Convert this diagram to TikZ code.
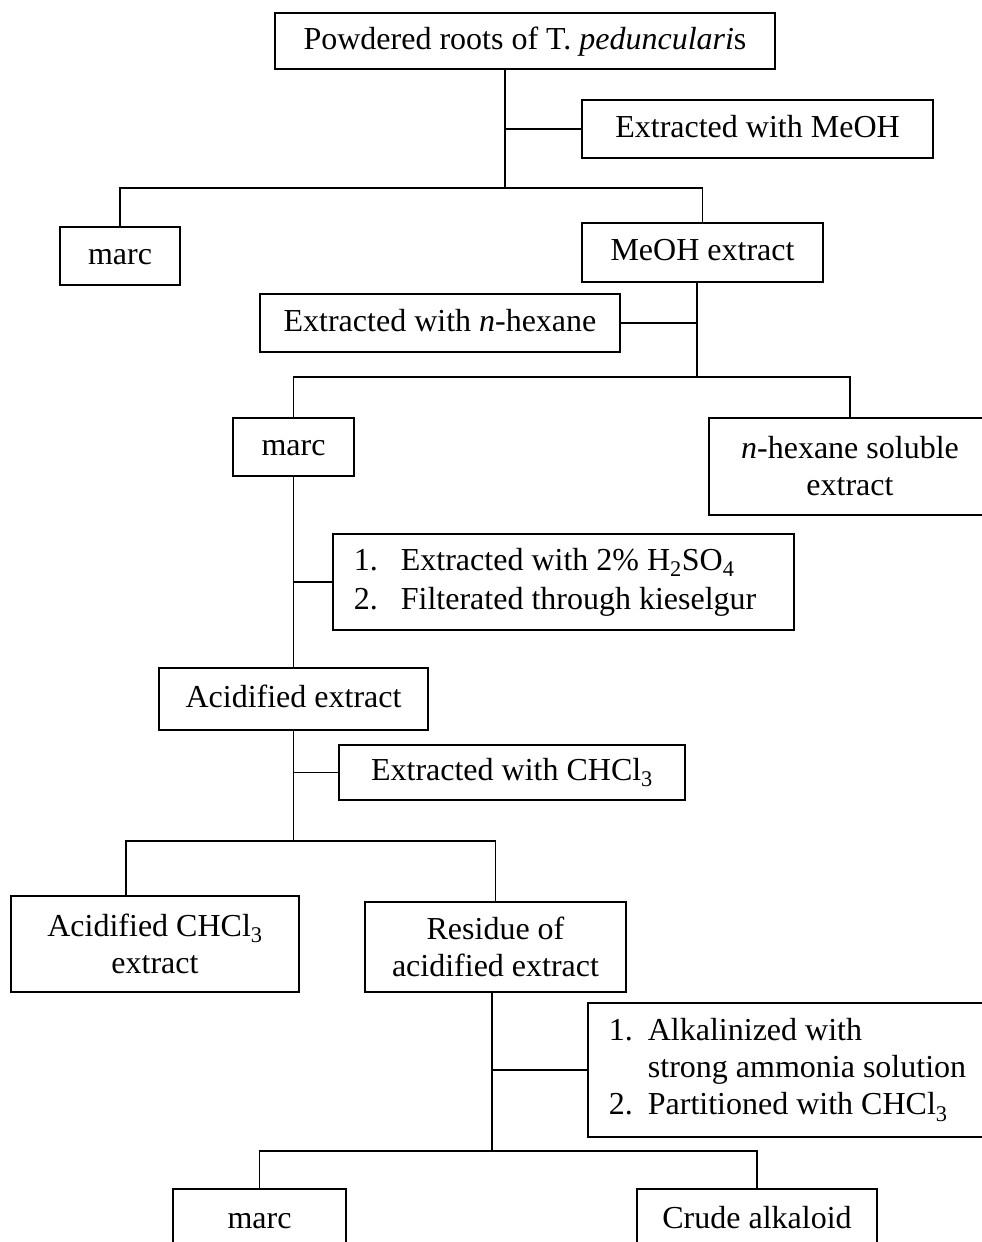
\documentclass[tikz,border=0pt]{standalone}
\usepackage{fontspec}
\setmainfont{Liberation Serif}

\begin{document}
\begin{tikzpicture}[x=1pt, y=-1pt,
    box/.style={draw, line width=1.8pt, inner sep=0pt, align=center},
    onebox/.style={box, text height=23pt, text depth=7pt},
    stepbox/.style={draw, line width=1.8pt, inner xsep=21pt, inner ysep=0pt, align=flush left, anchor=west},
    wire/.style={line width=1.8pt},
    font=\fontsize{32pt}{37pt}\selectfont]
    \useasboundingbox (0,0) rectangle (982,1242);
    \clip (0,0) rectangle (982,1242);
    \node [onebox, minimum width=500, minimum height=56] (root) at (525,41) {Powdered roots of T. \textit{pedunculari}s};
    \node [onebox, minimum width=351, minimum height=58] (ext1) at (757.5,129) {Extracted with MeOH};
    \node [onebox, minimum width=120, minimum height=58] (marc1) at (120,256) {marc};
    \node [onebox, minimum width=241, minimum height=59] (meoh) at (702.5,252.5) {MeOH extract};
    \node [onebox, minimum width=360, minimum height=58] (ext2) at (440,323) {Extracted with \textit{n}-hexane};
    \node [onebox, minimum width=121, minimum height=58] (marc2) at (293.5,447) {marc};
    \node [box, minimum width=282, minimum height=97] (hex) at (850,466.5) {\textit{n}-hexane soluble\\extract};
    \node [stepbox, text width=419pt, minimum height=96] (step1) at (332,582)
        {\makebox[47pt][l]{1.}Extracted with 2\% H\textsubscript{2}SO\textsubscript{4}\\[2pt]
         \makebox[47pt][l]{2.}Filterated through kieselgur};
    \node [onebox, minimum width=269, minimum height=62] (acid) at (293.5,699) {Acidified extract};
    \node [onebox, minimum width=346, minimum height=55] (ext3) at (512,772.5) {Extracted with CHCl\textsubscript{3}};
    \node [box, minimum width=288, minimum height=96] (chcl) at (155,944) {Acidified CHCl\textsubscript{3}\\extract};
    \node [box, minimum width=261, minimum height=90] (resid) at (495.5,947) {Residue of\\acidified extract};
    \node [stepbox, text width=380pt, minimum height=134] (step2) at (587,1070)
        {\makebox[39pt][l]{1.}Alkalinized with\\
         \hspace*{39pt}strong ammonia solution\\
         \makebox[39pt][l]{2.}Partitioned with CHCl\textsubscript{3}};
    \node [onebox, minimum width=173, minimum height=62] (marc3) at (259.5,1220) {marc};
    \node [onebox, minimum width=240, minimum height=62] (crude) at (757,1220) {Crude alkaloid};
    \coordinate (j1) at (505,188);
    \coordinate (j2) at (697,377);
    \coordinate (j3) at (293.5,841);
    \coordinate (c1) at (126,896);
    \coordinate (j4) at (492,1151);
    \draw [wire] (root.south -| j1) -- (j1);
    \draw [wire] (ext1.west) -- (ext1.west -| j1);
    \draw [wire] (marc1.north) |- (j1) -| (meoh.north);
    \draw [wire] (meoh.south -| j2) -- (j2);
    \draw [wire] (ext2.east) -- (ext2.east -| j2);
    \draw [wire] (marc2.north) |- (j2) -| (hex.north);
    \draw [wire] (marc2.south) -- (acid.north);
    \draw [wire] (step1.west) -- (step1.west -| marc2.south);
    \draw [wire] (acid.south) -- (j3);
    \draw [wire] (ext3.west) -- (ext3.west -| j3);
    \draw [wire] (chcl.north -| c1) |- (j3) -| (resid.north);
    \draw [wire] (resid.south -| j4) -- (j4);
    \draw [wire] (step2.west) -- (step2.west -| j4);
    \draw [wire] (marc3.north) |- (j4) -| (crude.north);
\end{tikzpicture}
\end{document}
